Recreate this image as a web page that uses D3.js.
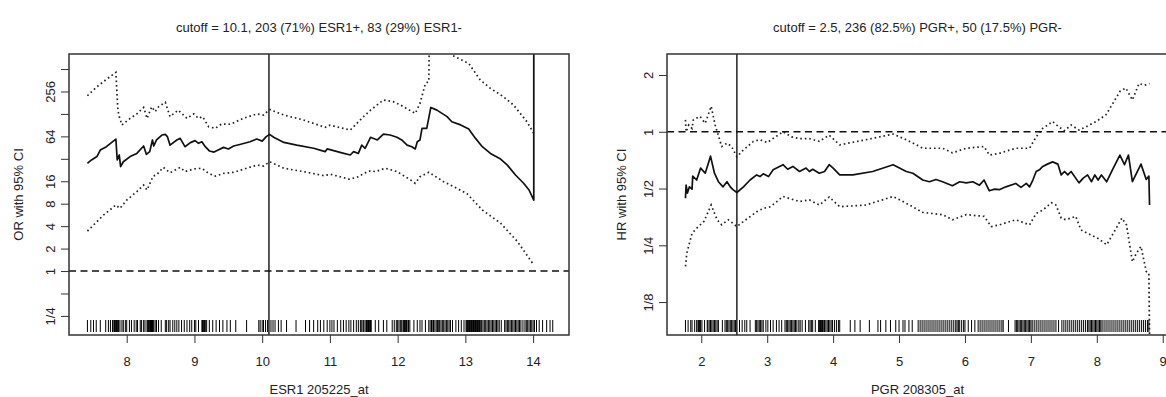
<!DOCTYPE html>
<html><head><meta charset="utf-8">
<script src="https://cdn.jsdelivr.net/npm/d3@7"></script>
<style>
body{margin:0;background:#fff}
svg text{font-family:"Liberation Sans",Arial,sans-serif;fill:#222}
</style>
</head><body>
<svg id="c" width="1166" height="397"></svg>
<script>
// ---------------- LEFT PANEL DATA (ESR1, OR, log2 scale) ----------------
const titleL = "cutoff = 10.1, 203 (71%) ESR1+, 83 (29%) ESR1-";
const xLabelL = "ESR1 205225_at";
const yLabelL = "OR with 95% CI";
const cutoffL = 10.1;
const xTicksL = [8, 9, 10, 11, 12, 13, 14];
const yTicksL = [9, 8, 7, 6, 5, 4, 3, 2, 1, 0, -1, -2];           // log2(OR)
const yTickLabelsL = ["", "256", "", "64", "", "16", "8", "4", "2", "1", "", "1/4"];

const orX = [7.42,7.48,7.56,7.61,7.70,7.84,7.86,7.89,7.91,7.95,8.05,8.15,8.25,8.29,8.34,8.38,8.40,8.44,8.52,8.57,8.60,8.64,8.74,8.79,8.86,8.94,9.01,9.06,9.11,9.16,9.22,9.29,9.35,9.43,9.50,9.58,9.67,9.82,9.92,10.00,10.06,10.11,10.17,10.32,10.51,10.76,10.93,10.96,11.15,11.30,11.35,11.42,11.47,11.52,11.60,11.70,11.79,11.89,11.99,12.06,12.14,12.21,12.26,12.29,12.33,12.36,12.43,12.49,12.58,12.73,12.80,12.93,13.05,13.15,13.25,13.37,13.52,13.62,13.74,13.86,13.94,14.01,14.01];
const orLog2 = [4.80,4.95,5.10,5.39,5.54,5.88,4.95,5.17,4.65,4.87,5.10,5.24,5.57,5.20,5.32,5.84,5.57,5.84,6.06,6.09,5.99,5.61,5.84,5.91,5.54,5.72,5.81,5.69,5.76,5.54,5.35,5.30,5.39,5.51,5.44,5.57,5.64,5.76,5.88,5.79,5.99,6.09,5.96,5.73,5.61,5.47,5.32,5.44,5.29,5.17,5.32,5.24,5.61,5.47,5.96,5.84,6.10,6.06,5.96,5.84,5.61,5.54,5.44,5.76,5.84,6.36,6.36,7.29,7.17,6.88,6.65,6.51,6.33,5.91,5.54,5.24,4.99,4.72,4.28,3.91,3.61,3.16,12];

const orUpX = [7.42,7.56,7.70,7.84,7.87,7.89,7.93,8.05,8.15,8.25,8.30,8.37,8.42,8.47,8.57,8.64,8.76,8.89,8.99,9.06,9.12,9.21,9.31,9.40,9.53,9.72,9.92,10.02,10.11,10.32,10.61,10.93,11.00,11.30,11.47,11.60,11.79,11.94,12.04,12.26,12.33,12.41,12.46,12.47,12.75,12.80,13.05,13.22,13.37,13.56,13.71,13.91,14.01];
const orUpLog2 = [7.81,8.21,8.54,8.85,7.17,6.88,6.51,6.80,7.00,7.29,6.80,7.32,7.10,7.32,7.52,6.88,7.17,6.80,7.00,6.80,6.88,6.43,6.36,6.55,6.54,6.80,7.00,6.95,7.20,6.95,6.73,6.40,6.50,6.28,6.80,7.17,7.62,7.54,7.40,7.02,7.47,8.36,8.44,11,10.5,9.62,9.25,8.51,8.14,7.77,7.40,6.65,6.13];

const orLoX = [7.42,7.56,7.66,7.84,7.90,8.00,8.15,8.25,8.30,8.39,8.44,8.54,8.64,8.79,8.86,8.99,9.11,9.21,9.31,9.43,9.58,9.77,9.92,10.02,10.11,10.32,10.61,10.91,11.01,11.29,11.42,11.50,11.60,11.67,11.82,11.99,12.19,12.26,12.33,12.46,12.68,13.02,13.25,13.52,13.77,14.01];
const orLoLog2 = [1.78,2.20,2.50,2.94,2.79,3.16,3.54,3.83,3.61,4.23,4.28,4.62,4.38,4.62,4.43,4.55,4.58,4.35,4.23,4.35,4.40,4.58,4.72,4.68,4.87,4.58,4.43,4.25,4.31,4.09,4.20,4.35,4.47,4.43,4.58,4.43,4.06,3.91,4.20,4.40,3.98,3.46,2.72,2.13,1.31,0.27];

const rugL = [7.42,7.47,7.51,7.55,7.61,7.69,7.73,7.76,7.79,7.81,7.82,7.83,7.84,7.85,7.86,7.87,7.88,7.90,7.93,7.95,7.98,8.00,8.04,8.07,8.11,8.14,8.16,8.20,8.22,8.25,8.27,8.30,8.31,8.32,8.33,8.34,8.35,8.355,8.36,8.365,8.37,8.375,8.38,8.39,8.40,8.42,8.44,8.47,8.51,8.57,8.59,8.62,8.64,8.68,8.71,8.74,8.77,8.81,8.85,8.89,8.93,8.96,9.00,9.02,9.06,9.11,9.12,9.13,9.14,9.15,9.16,9.18,9.22,9.27,9.32,9.37,9.42,9.48,9.53,9.61,9.77,9.95,9.97,10.00,10.02,10.05,10.08,10.13,10.16,10.19,10.24,10.28,10.36,10.50,10.64,10.70,10.76,10.82,10.86,10.91,10.96,11.00,11.03,11.06,11.11,11.16,11.20,11.24,11.28,11.31,11.35,11.39,11.42,11.45,11.47,11.49,11.50,11.52,11.54,11.55,11.56,11.57,11.58,11.59,11.60,11.61,11.67,11.72,11.79,11.84,11.92,11.95,11.98,12.00,12.02,12.04,12.06,12.08,12.09,12.10,12.11,12.12,12.13,12.14,12.16,12.18,12.24,12.29,12.33,12.36,12.41,12.46,12.48,12.50,12.52,12.53,12.55,12.57,12.59,12.60,12.62,12.64,12.66,12.68,12.70,12.72,12.74,12.76,12.78,12.81,12.86,12.90,12.94,12.98,13.01,13.02,13.03,13.04,13.05,13.06,13.07,13.08,13.09,13.10,13.11,13.12,13.13,13.14,13.15,13.16,13.17,13.18,13.19,13.20,13.21,13.22,13.24,13.26,13.28,13.30,13.32,13.34,13.36,13.38,13.40,13.42,13.44,13.46,13.48,13.50,13.53,13.58,13.60,13.62,13.64,13.66,13.68,13.70,13.72,13.74,13.76,13.78,13.80,13.82,13.85,13.88,13.90,13.92,13.94,13.96,13.98,14.00,14.02,14.05,14.09,14.14,14.20,14.25,14.29];

// ---------------- RIGHT PANEL DATA (PGR, HR, log2 scale) ----------------
const titleR = "cutoff = 2.5, 236 (82.5%) PGR+, 50 (17.5%) PGR-";
const xLabelR = "PGR 208305_at";
const yLabelR = "HR with 95% CI";
const cutoffR = 2.54;
const xTicksR = [2, 3, 4, 5, 6, 7, 8, 9];
const yTicksR = [1, 0, -1, -2, -3];                                  // log2(HR)
const yTickLabelsR = ["2", "1", "1/2", "1/4", "1/8"];

const hrX = [1.76,1.77,1.79,1.82,1.86,1.87,1.93,1.99,2.06,2.14,2.20,2.26,2.33,2.39,2.44,2.48,2.54,2.64,2.74,2.84,2.89,2.94,3.02,3.09,3.24,3.31,3.39,3.49,3.59,3.64,3.69,3.79,3.87,3.94,4.00,4.10,4.30,4.60,4.91,5.11,5.21,5.36,5.46,5.56,5.66,5.81,5.92,6.02,6.12,6.22,6.29,6.37,6.45,6.52,6.62,6.77,6.85,6.93,6.98,7.03,7.08,7.13,7.18,7.25,7.33,7.41,7.46,7.51,7.56,7.61,7.73,7.79,7.86,7.92,7.97,8.02,8.07,8.15,8.25,8.35,8.42,8.48,8.54,8.67,8.75,8.79,8.80];
const hrLog2 = [-1.17,-0.94,-1.08,-0.97,-1.01,-0.78,-0.85,-0.64,-0.73,-0.43,-0.73,-0.88,-0.97,-0.88,-0.97,-1.02,-1.07,-0.97,-0.85,-0.76,-0.79,-0.74,-0.79,-0.67,-0.58,-0.66,-0.61,-0.70,-0.64,-0.70,-0.66,-0.73,-0.70,-0.58,-0.64,-0.76,-0.76,-0.70,-0.58,-0.70,-0.73,-0.85,-0.88,-0.84,-0.88,-0.95,-0.88,-0.90,-0.88,-0.94,-0.85,-1.04,-1.01,-1.02,-0.97,-0.91,-0.98,-0.91,-0.97,-0.85,-0.70,-0.67,-0.61,-0.57,-0.53,-0.57,-0.76,-0.70,-0.76,-0.70,-0.90,-0.82,-0.76,-0.88,-0.76,-0.85,-0.76,-0.88,-0.64,-0.41,-0.58,-0.41,-0.88,-0.57,-0.84,-0.78,-1.29];

const hrUpX = [1.76,1.77,1.81,1.86,1.88,1.98,2.06,2.15,2.21,2.31,2.39,2.46,2.54,2.64,2.79,2.89,3.00,3.10,3.24,3.37,3.49,3.64,3.79,3.94,4.10,4.50,4.91,5.11,5.36,5.66,5.81,6.02,6.29,6.37,6.52,6.77,6.98,7.08,7.18,7.33,7.43,7.51,7.61,7.73,7.84,7.99,8.14,8.29,8.35,8.44,8.54,8.64,8.72,8.80];
const hrUpLog2 = [0.21,0.00,0.12,0.06,0.21,0.27,0.15,0.45,0.12,-0.26,-0.20,-0.26,-0.44,-0.32,-0.17,-0.14,-0.19,-0.11,0.00,-0.09,-0.12,-0.12,-0.17,-0.06,-0.23,-0.14,-0.04,-0.14,-0.29,-0.29,-0.37,-0.29,-0.26,-0.41,-0.38,-0.29,-0.29,-0.09,0.06,0.18,0.08,0.02,0.12,0.03,0.09,0.18,0.30,0.59,0.71,0.77,0.56,0.85,0.82,0.85];

const hrLoX = [1.76,1.78,1.86,1.93,2.04,2.15,2.24,2.31,2.41,2.54,2.64,2.84,2.94,3.05,3.24,3.49,3.64,3.79,3.94,4.10,4.50,4.91,5.11,5.36,5.66,5.81,6.02,6.29,6.40,6.52,6.77,6.98,7.08,7.18,7.31,7.38,7.46,7.53,7.68,7.76,7.86,8.02,8.15,8.25,8.38,8.45,8.54,8.60,8.67,8.75,8.79,8.80];
const hrLoLog2 = [-2.37,-2.14,-1.79,-1.70,-1.58,-1.29,-1.55,-1.64,-1.55,-1.67,-1.58,-1.41,-1.35,-1.32,-1.14,-1.23,-1.20,-1.29,-1.15,-1.32,-1.29,-1.14,-1.26,-1.42,-1.46,-1.55,-1.46,-1.49,-1.67,-1.64,-1.55,-1.64,-1.44,-1.38,-1.25,-1.29,-1.52,-1.55,-1.49,-1.73,-1.79,-1.88,-1.99,-1.79,-1.52,-1.64,-2.29,-2.14,-2.02,-2.46,-2.49,-3.6];

const rugR = [1.76,1.80,1.84,1.86,1.90,1.93,1.95,1.96,1.97,1.98,1.99,2.01,2.05,2.09,2.10,2.12,2.14,2.16,2.18,2.20,2.22,2.24,2.26,2.32,2.36,2.38,2.40,2.42,2.44,2.46,2.48,2.50,2.52,2.58,2.62,2.66,2.69,2.74,2.82,2.84,2.86,2.88,2.90,2.92,2.94,2.98,3.01,3.05,3.09,3.14,3.18,3.22,3.27,3.29,3.31,3.33,3.35,3.37,3.39,3.41,3.43,3.45,3.48,3.50,3.53,3.58,3.63,3.65,3.67,3.69,3.73,3.78,3.79,3.80,3.81,3.82,3.83,3.84,3.85,3.87,3.89,3.91,3.93,3.95,3.97,3.99,4.02,4.05,4.08,4.10,4.26,4.33,4.41,4.55,4.68,4.72,4.80,4.87,4.95,5.00,5.06,5.09,5.15,5.20,5.29,5.32,5.35,5.38,5.41,5.44,5.47,5.50,5.53,5.56,5.59,5.62,5.65,5.68,5.71,5.74,5.77,5.80,5.83,5.86,5.88,5.90,5.92,5.95,5.98,6.00,6.05,6.10,6.15,6.20,6.23,6.26,6.29,6.32,6.35,6.38,6.41,6.44,6.47,6.50,6.53,6.56,6.58,6.66,6.76,6.78,6.80,6.82,6.84,6.86,6.88,6.90,6.92,6.94,6.96,6.98,7.00,7.02,7.05,7.08,7.11,7.14,7.17,7.20,7.23,7.26,7.29,7.32,7.35,7.38,7.42,7.47,7.50,7.53,7.56,7.59,7.62,7.65,7.68,7.71,7.74,7.77,7.80,7.83,7.86,7.88,7.90,7.92,7.94,7.96,7.98,8.00,8.02,8.04,8.06,8.08,8.11,8.14,8.17,8.20,8.23,8.26,8.29,8.32,8.35,8.38,8.41,8.44,8.47,8.50,8.53,8.56,8.59,8.62,8.65,8.68,8.71,8.74,8.77,8.79];

// ---------------- DRAWING ----------------
const svg = d3.select("#c");
svg.append("rect").attr("width",1166).attr("height",397).attr("fill","#fff");

function panel(cfg, id) {
  const {left, right, top, bottom} = cfg.box;
  const x = d3.scaleLinear().domain(cfg.xDomain).range([left, right]);
  const y = d3.scaleLinear().domain(cfg.yDomain).range([bottom, top]);
  const g = svg.append("g");

  g.append("clipPath").attr("id", "clip" + id)
    .append("rect").attr("x", left).attr("y", top).attr("width", right - left).attr("height", bottom - top);
  const plot = g.append("g").attr("clip-path", `url(#clip${id})`);

  // reference line at ratio = 1
  plot.append("line").attr("x1", left).attr("x2", right).attr("y1", y(0)).attr("y2", y(0))
    .attr("stroke", "#111").attr("stroke-width", 1.4).attr("stroke-dasharray", "7,4.5");

  // cutoff line
  plot.append("line").attr("x1", x(cfg.cutoff)).attr("x2", x(cfg.cutoff)).attr("y1", top).attr("y2", bottom)
    .attr("stroke", "#111").attr("stroke-width", 1.4);

  const line = d3.line().x(d => x(d[0])).y(d => y(d[1]));
  [[cfg.upX, cfg.upY], [cfg.loX, cfg.loY]].forEach(([xs, ys]) => {
    plot.append("path").datum(d3.zip(xs, ys)).attr("d", line)
      .attr("fill", "none").attr("stroke", "#222").attr("stroke-width", 1.7).attr("stroke-dasharray", "1.6,2.9");
  });
  plot.append("path").datum(d3.zip(cfg.estX, cfg.estY)).attr("d", line)
    .attr("fill", "none").attr("stroke", "#111").attr("stroke-width", 1.7).attr("stroke-linejoin", "round");

  // rug
  plot.selectAll("line.rug").data(cfg.rug).enter().append("line").attr("class", "rug")
    .attr("x1", d => x(d)).attr("x2", d => x(d)).attr("y1", bottom - 15).attr("y2", bottom - 3)
    .attr("stroke", "#000").attr("stroke-width", 1);

  // box
  g.append("rect").attr("x", left).attr("y", top).attr("width", right - left).attr("height", bottom - top)
    .attr("fill", "none").attr("stroke", "#333").attr("stroke-width", 1.5);

  // x axis
  const xa = g.append("g").attr("transform", `translate(0,${bottom})`)
    .call(d3.axisBottom(x).tickValues(cfg.xTicks).tickSize(8).tickPadding(14).tickFormat(d3.format("d")));
  xa.select(".domain").remove();
  xa.selectAll(".tick line").attr("stroke", "#333").attr("stroke-width", 1);
  xa.selectAll(".tick text").attr("font-size", 13).attr("font-family", "Liberation Sans, Arial, sans-serif").attr("fill", "#222");

  // y axis
  const ya = g.append("g").attr("transform", `translate(${left},0)`)
    .call(d3.axisLeft(y).tickValues(cfg.yTicks).tickSize(8).tickFormat((d, i) => cfg.yTickLabels[i]));
  ya.select(".domain").remove();
  ya.selectAll(".tick line").attr("stroke", "#333").attr("stroke-width", 1);
  ya.selectAll(".tick text").attr("font-size", 13).attr("font-family", "Liberation Sans, Arial, sans-serif").attr("fill", "#222")
    .attr("x", 0).attr("dy", null).attr("text-anchor", "middle")
    .attr("transform", "translate(-14.4,0) rotate(-90)");

  // titles
  g.append("text").attr("x", (left + right) / 2).attr("y", 32).attr("text-anchor", "middle")
    .attr("font-size", 13).text(cfg.title);
  g.append("text").attr("x", (left + right) / 2).attr("y", 394).attr("text-anchor", "middle")
    .attr("font-size", 13).text(cfg.xLabel);
  g.append("text").attr("transform", `translate(${cfg.yLabelX},${(top + bottom) / 2}) rotate(-90)`)
    .attr("text-anchor", "middle").attr("font-size", 13).text(cfg.yLabel);
}

panel({
  box: {left: 69, right: 569, top: 54, bottom: 335},
  xDomain: [7.148, 14.53], yDomain: [-2.85, 9.67],
  xTicks: xTicksL, yTicks: yTicksL, yTickLabels: yTickLabelsL,
  estX: orX, estY: orLog2, upX: orUpX, upY: orUpLog2, loX: orLoX, loY: orLoLog2,
  rug: rugL, cutoff: cutoffL, title: titleL, xLabel: xLabelL, yLabel: yLabelL, yLabelX: 23
}, "L");

panel({
  box: {left: 667, right: 1168, top: 54, bottom: 335},
  xDomain: [1.48, 9.08], yDomain: [-3.58, 1.37],
  xTicks: xTicksR, yTicks: yTicksR, yTickLabels: yTickLabelsR,
  estX: hrX, estY: hrLog2, upX: hrUpX, upY: hrUpLog2, loX: hrLoX, loY: hrLoLog2,
  rug: rugR, cutoff: cutoffR, title: titleR, xLabel: xLabelR, yLabel: yLabelR, yLabelX: 626
}, "R");
</script>
</body></html>
